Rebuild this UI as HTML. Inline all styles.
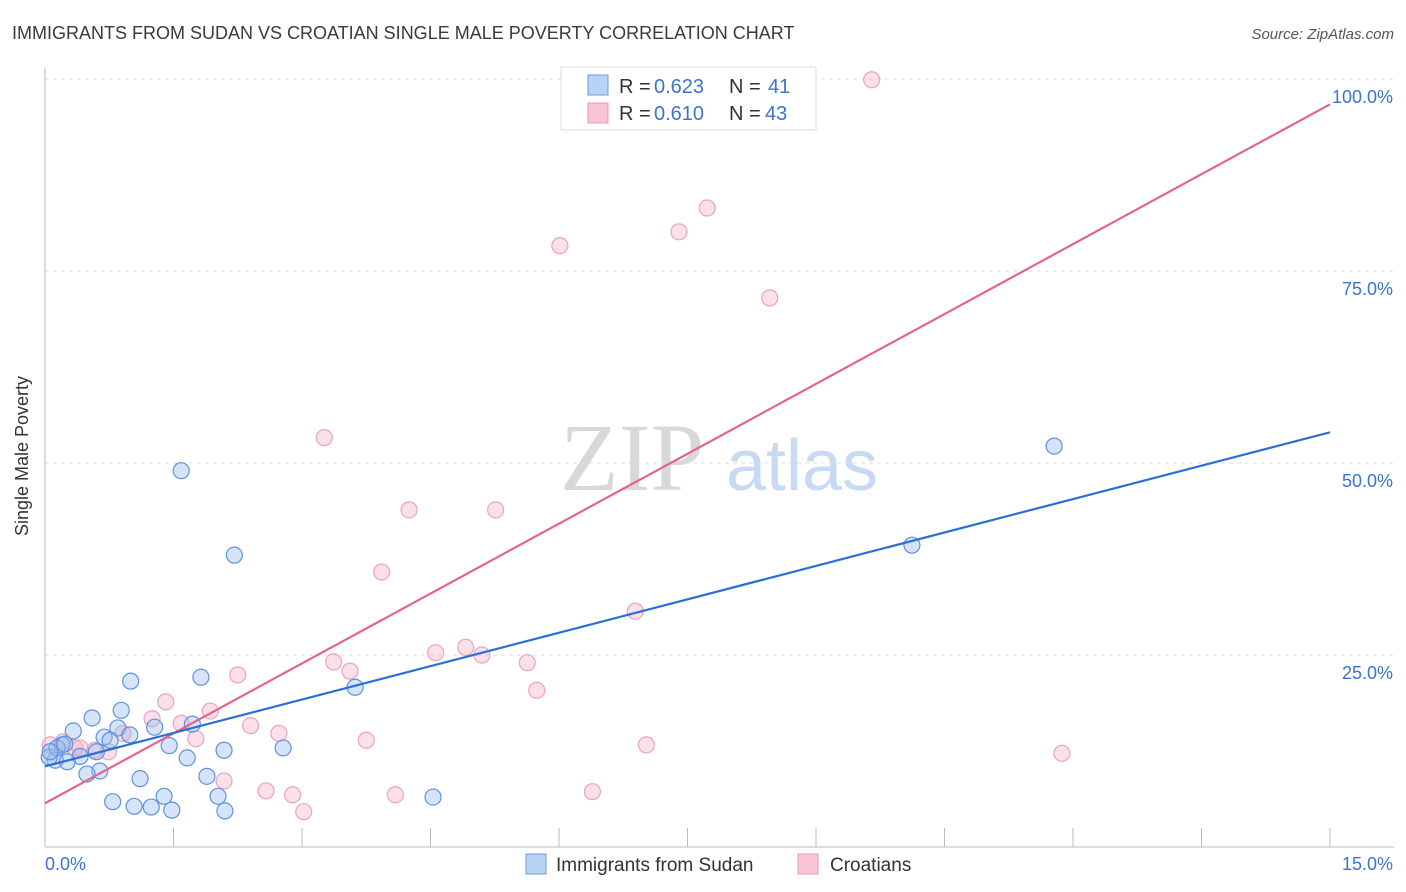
<!DOCTYPE html>
<html><head><meta charset="utf-8"><style>
body{margin:0;background:#fff;font-family:"Liberation Sans",sans-serif;}
</style></head><body>
<svg width="1406" height="892" xmlns="http://www.w3.org/2000/svg" style="display:block;font-family:'Liberation Sans',sans-serif">
<text x="12" y="39" font-size="18" fill="#3a3a3a">IMMIGRANTS FROM SUDAN VS CROATIAN SINGLE MALE POVERTY CORRELATION CHART</text>
<text x="1394" y="39" font-size="15" font-style="italic" fill="#555" text-anchor="end">Source: ZipAtlas.com</text>
<g>
<text x="632" y="490" font-size="96" font-family="'Liberation Serif',serif" fill="#d8d8d8" text-anchor="middle">ZIP</text>
<text x="802" y="490" font-size="72" fill="#c8daf2" text-anchor="middle">atlas</text>
</g>
<g id="grid"></g>
<g id="axes"></g>
<g id="marks"></g>
<text x="28" y="456" font-size="18" fill="#333" transform="rotate(-90 28 456)" text-anchor="middle">Single Male Poverty</text>
<g>
<rect x="561" y="67" width="255" height="63" fill="#fff" stroke="#ddd"/>
<rect x="588" y="75" width="20" height="20" fill="#b9d3f5" stroke="#6b9be0"/>
<text x="619" y="93" font-size="20" fill="#333">R = </text><text x="654" y="93" font-size="20" fill="#3b73d1">0.623</text>
<text x="729" y="93" font-size="20" fill="#333">N = </text><text x="768" y="93" font-size="20" fill="#3b73d1">41</text>
<rect x="588" y="103" width="20" height="20" fill="#f9c5d5" stroke="#e899b3"/>
<text x="619" y="120" font-size="20" fill="#333">R = </text><text x="654" y="120" font-size="20" fill="#3b73d1">0.610</text>
<text x="729" y="120" font-size="20" fill="#333">N = </text><text x="765" y="120" font-size="20" fill="#3b73d1">43</text>
</g>
<g>
<rect x="526" y="854" width="20" height="20" fill="#b9d3f5" stroke="#6b9be0"/>
<text x="556" y="871" font-size="19" fill="#333">Immigrants from Sudan</text>
<rect x="798" y="854" width="20" height="20" fill="#f9c5d5" stroke="#e899b3"/>
<text x="830" y="871" font-size="19" fill="#333">Croatians</text>
</g>
</svg>
<script>
const xTicks=[0,1.5,3,4.5,6,7.5,9,10.5,12,13.5,15];
const yTicks=[25,50,75,100];
const yTickLabels=["25.0%","50.0%","75.0%","100.0%"];
const xEndLabels=["0.0%","15.0%"];
const sudanX=[1.59,2.21,11.78,10.12,3.62,1.00,1.82,0.89,0.55,0.33,0.69,0.85,1.28,1.72,0.20,1.45,0.60,2.09,2.78,0.41,0.12,0.26,1.66,1.11,0.64,0.49,1.89,0.79,1.04,1.24,1.39,1.48,2.02,2.10,4.53,0.05,0.14,0.76,0.06,0.99,0.23];
const sudanY=[49.0,38.0,52.2,39.3,20.8,21.6,22.1,17.8,16.8,15.1,14.3,15.5,15.6,16.0,13.3,13.2,12.4,12.6,12.9,11.8,11.3,11.1,11.6,8.9,9.9,9.5,9.2,5.9,5.3,5.2,6.6,4.8,6.6,4.7,6.5,11.7,12.9,13.9,12.4,14.6,13.4];
const croX=[6.30,8.85,9.65,7.73,7.40,6.01,8.46,3.26,4.25,5.26,3.93,6.89,4.91,4.56,5.10,3.37,3.56,5.63,5.74,2.25,1.41,1.93,1.25,1.59,2.40,2.73,1.76,3.75,7.02,0.91,0.58,0.74,0.21,0.35,2.09,2.58,2.89,3.02,4.09,6.39,11.87,0.06,0.41];
const croY=[99.9,99.9,99.9,83.2,80.1,78.3,71.5,53.3,43.9,43.9,35.8,30.7,26.0,25.3,25.0,24.1,22.9,24.0,20.4,22.4,18.9,17.7,16.7,16.1,15.8,14.8,14.1,13.9,13.3,14.8,12.6,12.4,13.7,12.9,8.6,7.3,6.8,4.6,6.8,7.2,12.2,13.3,12.9];
const sudanTrend=[10.5,54.0];
const croTrend=[5.7,96.7];
const NS="http://www.w3.org/2000/svg";
const X0=45,X1=1330,Y0=847,Y100=79;
const sx=v=>X0+(v/15)*(X1-X0);
const sy=v=>Y0-(v/100)*(Y0-Y100);
function mk(tag,attrs,parent){const e=document.createElementNS(NS,tag);for(const k in attrs)e.setAttribute(k,attrs[k]);parent.appendChild(e);return e;}
const grid=document.getElementById('grid'),axes=document.getElementById('axes'),marks=document.getElementById('marks');
yTicks.forEach((t,i)=>{
 const l=mk('line',{x1:X0,x2:1394,y1:sy(t),y2:sy(t),stroke:'#ddd','stroke-dasharray':'4 4'},grid);
 
 
 const tx=mk('text',{x:1393,y:sy(t)+24,'font-size':18,fill:'#3b73d1','text-anchor':'end'},axes);
 tx.textContent=yTickLabels[i];
 
 
});
mk('line',{x1:X0,x2:X0,y1:68,y2:Y0,stroke:'#bbb'},axes);
mk('line',{x1:X0,x2:1394,y1:Y0,y2:Y0,stroke:'#bbb'},axes);
xTicks.slice(1).forEach(t=>{
 const l=mk('line',{x1:sx(t),x2:sx(t),y1:828,y2:Y0,stroke:'#bbb'},axes);
 
 
});
const xl0=mk('text',{x:45,y:870,'font-size':18,fill:'#3b73d1'},axes);xl0.textContent=xEndLabels[0];


const xl1=mk('text',{x:1393,y:870,'font-size':18,fill:'#3b73d1','text-anchor':'end'},axes);xl1.textContent=xEndLabels[1];


croX.forEach((v,i)=>{
 const c=mk('circle',{cx:sx(v),cy:sy(croY[i]),r:8,fill:'rgba(246,176,200,0.4)',stroke:'#eba3bc','stroke-width':1.2},marks);
 
 
});
sudanX.forEach((v,i)=>{
 const c=mk('circle',{cx:sx(v),cy:sy(sudanY[i]),r:8,fill:'rgba(150,188,240,0.4)',stroke:'#5f92de','stroke-width':1.2},marks);
 
 
});
const t1=mk('line',{x1:sx(0),y1:sy(croTrend[0]),x2:sx(15),y2:sy(croTrend[1]),stroke:'#e5648e','stroke-width':2.2},marks);


const t2=mk('line',{x1:sx(0),y1:sy(sudanTrend[0]),x2:sx(15),y2:sy(sudanTrend[1]),stroke:'#2a6fd6','stroke-width':2.2},marks);


</script>
</body></html>
